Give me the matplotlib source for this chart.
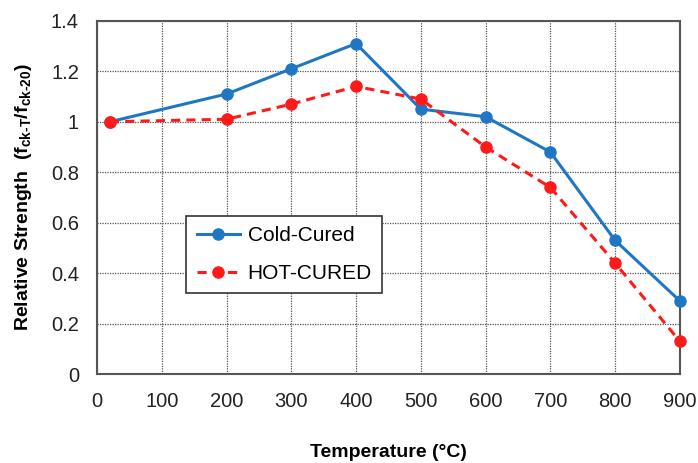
import matplotlib
matplotlib.use("Agg")
import matplotlib.pyplot as plt

plt.rcParams["font.family"] = ["Liberation Sans", "DejaVu Sans"]
plt.rcParams["mathtext.fontset"] = "custom"
plt.rcParams["mathtext.rm"] = "Liberation Sans:bold"
plt.rcParams["mathtext.it"] = "Liberation Sans:bold"
plt.rcParams["mathtext.bf"] = "Liberation Sans:bold"

temperature = [20, 200, 300, 400, 500, 600, 700, 800, 900]
cold_cured = [1.00, 1.11, 1.21, 1.31, 1.05, 1.02, 0.88, 0.53, 0.29]
hot_cured = [1.00, 1.01, 1.07, 1.14, 1.09, 0.90, 0.74, 0.44, 0.13]
x_ticks = [0, 100, 200, 300, 400, 500, 600, 700, 800, 900]
y_ticks = [0, 0.2, 0.4, 0.6, 0.8, 1.0, 1.2, 1.4]
y_tick_labels = ["0", "0.2", "0.4", "0.6", "0.8", "1", "1.2", "1.4"]

fig = plt.figure(figsize=(6.98, 4.63), dpi=100)
ax = fig.add_axes([0.139, 0.192, 0.835, 0.763])

ax.plot(temperature, cold_cured, color="#1f77c4", lw=2.2, marker="o", ms=8,
        label="Cold-Cured", zorder=3, clip_on=False)
ax.plot(temperature, hot_cured, color="#ff1a1a", lw=2.2, ls=(0, (3, 2)), marker="o", ms=8,
        label="HOT-CURED", zorder=3, clip_on=False)

ax.set_xlim(0, 900)
ax.set_ylim(0, 1.4)
ax.set_xticks(x_ticks)
ax.set_yticks(y_ticks)
ax.set_yticklabels(y_tick_labels)
ax.tick_params(labelsize=14.5, length=0, pad=13, colors="#222222")
ax.grid(True, color="#555555", ls=(0, (1, 1)), lw=0.9)
for sp in ax.spines.values():
    sp.set_color("#555555")
    sp.set_linewidth(1.5)

ax.set_xlabel("Temperature (°C)", fontsize=14, fontweight="bold", labelpad=24)
ax.set_ylabel(r"Relative Strength  (f$_{ck\text{-}T}$/f$_{ck\text{-}20}$)",
              fontsize=14, fontweight="bold", labelpad=12)

leg = ax.legend(loc="upper left", bbox_to_anchor=(0.153, 0.448), borderaxespad=0,
                fontsize=15, fancybox=False, framealpha=1, edgecolor="#333333",
                handlelength=2.1, handletextpad=0.35, borderpad=0.5, labelspacing=0.9)
leg.get_frame().set_linewidth(1.2)

fig.savefig("out.png", dpi=100)
